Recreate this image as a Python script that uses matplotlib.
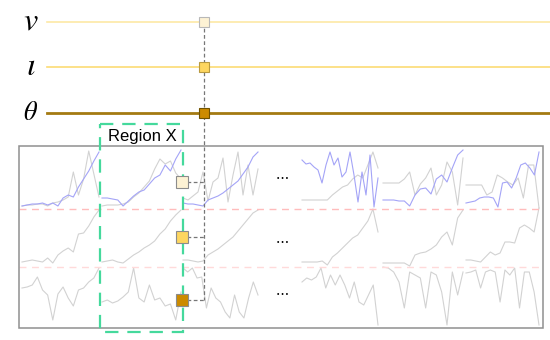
import matplotlib.pyplot as plt
import numpy as np
from matplotlib.patches import Rectangle

plt.rcParams['mathtext.fontset'] = 'stix'
plt.rcParams['font.family'] = ['Liberation Sans', 'DejaVu Sans']

# ---- data: heights (px) above each band's floor ----
# six panels of series, top row: grey + blue, middle row: grey, bottom row: grey
top_grey = [
    [3, 4, 4, 5, 5, 3, 6, 7, 9, 12, 37, 14, 30, 58, 35, 12],
    [3, 4, 4, 4, 5, 7, 12, 16, 22, 28, 40, 50, 45, 48, 36, 30],
    [11, 9, 13, 17, 37, 8, 27, 31, 51, 7, 34, 57, 14, 44, 14, 40],
    [9, 9, 9, 9, 9, 9, 14, 18, 22, 24, 30, 34, 31, 44, 57, 41],
    [26, 26, 26, 26, 30, 37, 14, 25, 31, 41, 14, 24, 47, 37, 4, 51],
    [24, 24, 24, 24, 14, 17, 34, 31, 27, 24, 31, 11, 44, 44, 1],
]
top_blue = [
    [3, 4, 5, 5, 6, 4, 6, 3, 11, 14, 12, 22, 30, 38, 48, 57],
    [11, 11, 10, 9, 3, 8, 13, 17, 19, 25, 31, 34, 44, 38, 50, 59],
    [6, 5, 5, 4, 3, 9, 11, 13, 16, 20, 24, 28, 35, 42, 52, 57],
    [49, 45, 46, 42, 39, 26, 44, 57, 44, 51, 32, 37, 57, 34, 7, 37, 14, 54, 2, 31],
    [9, 9, 9, 8, 8, 3, 14, 20, 21, 15, 30, 34, 27, 41, 54, 59],
    [6, 7, 8, 11, 12, 12, 11, 2, 26, 27, 21, 31, 44, 46, 41, 34, 57],
]
mid_grey = [
    [5, 6, 7, 6, 5, 9, 4, 12, 16, 19, 15, 33, 34, 41, 50, 57],
    [5, 6, 7, 5, 4, 8, 12, 15, 19, 22, 26, 33, 38, 46, 52, 57],
    [7, 7, 6, 5, 6, 12, 15, 18, 22, 26, 30, 36, 42, 48, 54, 57],
    [5, 5, 5, 5, 6, 2, 10, 14, 19, 24, 29, 32, 39, 46, 58, 35],
    [4, 4, 4, 4, 4, 1, 12, 14, 15, 18, 22, 30, 35, 22, 49, 57],
    [7, 7, 6, 5, 10, 15, 12, 14, 25, 25, 24, 39, 42, 39, 35, 59],
]
bot_grey = [
    [40, 41, 43, 51, 38, 33, 8, 34, 41, 30, 22, 38, 40, 46, 50, 60],
    [26, 28, 25, 27, 31, 36, 60, 30, 26, 43, 28, 30, 22, 24, 8, 36],
    [60, 56, 60, 50, 51, 20, 40, 30, 26, 16, 10, 33, 16, 10, 30, 46, 33],
    [46, 50, 48, 51, 60, 40, 53, 43, 53, 43, 30, 46, 26, 23, 33, 43, 3],
    [61, 60, 56, 46, 20, 56, 53, 50, 20, 56, 53, 36, 3, 56, 33, 56],
    [55, 56, 58, 40, 56, 58, 56, 26, 58, 53, 60, 20, 56, 56, 36, 3],
]
row_labels = [r'$v$', r'$\iota$', r'$\theta$']
row_colors = ['#fdf2d4', '#fdd660', '#cc8b00']
line_colors = ['#fde9a6', '#fcdb74', '#a47a12']

# ---- layout (pixels) ----
seg_span = [(22, 99), (102, 181), (183, 258), (302, 378), (383, 463), (466, 539)]
band_floor = [209, 267, 328]

fig = plt.figure(figsize=(5.5, 3.4), dpi=100)
ax = fig.add_axes([0, 0, 1, 1])
ax.set_xlim(0, 550)
ax.set_ylim(340, 0)
ax.axis('off')

# top parameter lines
for i, y in enumerate([22, 67, 113]):
    ax.plot([47, 550], [y, y], color=line_colors[i], lw=2 if i == 2 else 1.2, zorder=1)
    ax.text(31, y, row_labels[i], fontsize=23 if i < 2 else 19,
            ha='center', va='center')

# series
def draw(rows, floor, color, z):
    for (x0, x1), vals in zip(seg_span, rows):
        xs = np.linspace(x0, x1, len(vals))
        ax.plot(xs, floor - np.array(vals), color=color, lw=0.8, zorder=z)

draw(top_grey, band_floor[0], '#d2d2d2', 2)
draw(top_blue, band_floor[0], '#a4a4f7', 3)
draw(mid_grey, band_floor[1], '#d2d2d2', 2)
draw(bot_grey, band_floor[2], '#d2d2d2', 2)

# band separators
ax.plot([19, 543], [209, 209], color='#ffbcbc', lw=1, ls=(0, (5, 4)), zorder=4)
ax.plot([19, 543], [267, 267], color='#ffdada', lw=1, ls=(0, (5, 4)), zorder=4)

# frame
ax.add_patch(Rectangle((19, 146), 524, 182, fill=False, ec='#8f8f8f', lw=1.1, zorder=5))

# region X
ax.add_patch(Rectangle((100, 124), 83, 208, fill=False, ec='#45d99c', lw=1.6,
                       ls=(0, (6, 4)), zorder=6))
ax.text(142, 136, 'Region X', fontsize=12, ha='center', va='center', zorder=7)

# connectors
ax.plot([204, 204], [22, 300], color='#777777', lw=0.9, ls=(0, (3, 2)), zorder=6)
for y in [182, 237, 300]:
    ax.plot([187, 204], [y, y], color='#777777', lw=0.9, ls=(0, (3, 2)), zorder=6)

edges = ['#b8b8b8', '#b89a40', '#6f5200']
for i, y in enumerate([22, 67, 113]):
    ax.plot(204, y, marker='s', ms=7.5, mfc=row_colors[i], mec=edges[i], mew=0.8, zorder=8)
for i, y in enumerate([182, 237, 300]):
    ax.plot(182, y, marker='s', ms=8, mfc=row_colors[i], mec='#8c8c8c', mew=0.8, zorder=8)

for y in [178, 242, 294]:
    ax.text(283, y, '\u2022 \u2022 \u2022', fontsize=5, ha='center', va='center', zorder=7)

fig.savefig('out.png', dpi=100)
